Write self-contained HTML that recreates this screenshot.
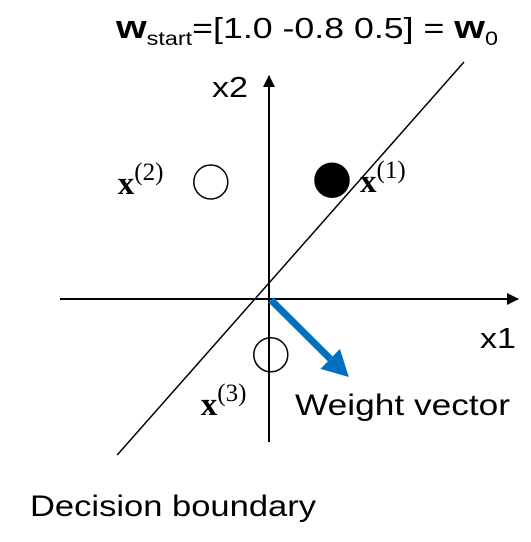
<!DOCTYPE html>
<html><head><meta charset="utf-8"><style>
html,body{margin:0;padding:0;background:#fff;width:531px;height:542px;overflow:hidden}
svg text{font-family:"Liberation Sans",sans-serif;fill:#000}
.m{font-family:"Liberation Serif",serif;font-weight:bold}
</style></head><body>
<svg id="c" width="531" height="542" viewBox="0 0 531 542">
<defs>
<marker id="ah" markerWidth="12" markerHeight="12" refX="11" refY="6" orient="auto" markerUnits="userSpaceOnUse"><path d="M0,0 L12,6 L0,12 z" fill="#000"/></marker>
</defs>
<text x="116" y="38" font-size="29" textLength="382" lengthAdjust="spacingAndGlyphs"><tspan font-weight="bold" font-size="32">w</tspan><tspan font-size="19" dy="7">start</tspan><tspan dy="-7">=[1.0 -0.8 0.5] = </tspan><tspan font-weight="bold" font-size="32">w</tspan><tspan font-size="19" dy="7">0</tspan></text>
<line x1="60" y1="299" x2="518" y2="299" stroke="#000" stroke-width="2" marker-end="url(#ah)"/>
<line x1="269" y1="442" x2="269" y2="76" stroke="#000" stroke-width="2" marker-end="url(#ah)"/>
<text x="212" y="97" font-size="29" textLength="36" lengthAdjust="spacingAndGlyphs">x2</text>
<text x="480" y="348" font-size="29" textLength="36" lengthAdjust="spacingAndGlyphs">x1</text>
<text x="295" y="415" font-size="30" textLength="215" lengthAdjust="spacingAndGlyphs">Weight vector</text>
<text x="30" y="516" font-size="30" textLength="286" lengthAdjust="spacingAndGlyphs">Decision boundary</text>
<g id="marks"></g>
</svg>
<script>
const pointNames=["x1","x2","x3"];
const pointX=[1.05,-0.97,0.03];
const pointY=[1.98,1.95,-0.93];
const pointFilled=[true,false,false];
const labelSup=["1","2","3"];
const boundaryX=[-2.53,3.25];
const boundaryY=[-2.6,3.95];
const weightVec=[1.33,-1.3];
const ox=269,oy=299,s=60;
const sx=v=>ox+v*s, sy=v=>oy-v*s;
const NS="http://www.w3.org/2000/svg";
const g=document.getElementById("marks");
function mk(t,a){const e=document.createElementNS(NS,t);for(const k in a)e.setAttribute(k,a[k]);g.appendChild(e);return e;}
const bl=mk("line",{x1:sx(boundaryX[0]),y1:sy(boundaryY[0]),x2:sx(boundaryX[1]),y2:sy(boundaryY[1]),stroke:"#000","stroke-width":1.5});


const labOff=[[28,12],[-93,12],[-70,60]];
pointNames.forEach((n,i)=>{
 const c=mk("circle",{cx:sx(pointX[i]),cy:sy(pointY[i]),r:17,fill:pointFilled[i]?"#000":"none",stroke:"#000","stroke-width":1.5});
 
 
 const t=mk("text",{x:sx(pointX[i])+labOff[i][0],y:sy(pointY[i])+labOff[i][1],"font-size":33,"class":"m"});
 t.innerHTML='x<tspan font-size="25" font-weight="normal" dy="-14">('+labelSup[i]+')</tspan>';
 
 
});
const ex=sx(weightVec[0]),ey=sy(weightVec[1]);
const dx=ex-ox,dy=ey-oy,L=Math.hypot(dx,dy),ux=dx/L,uy=dy/L;
const bx=ex-ux*26,by=ey-uy*26;
const wl=mk("line",{x1:ox+2,y1:oy+1,x2:bx,y2:by,stroke:"#0070c0","stroke-width":7});


const wh=mk("polygon",{points:`${ex},${ey} ${bx-uy*14},${by+ux*14} ${bx+uy*14},${by-ux*14}`,fill:"#0070c0"});


</script>
</body></html>
